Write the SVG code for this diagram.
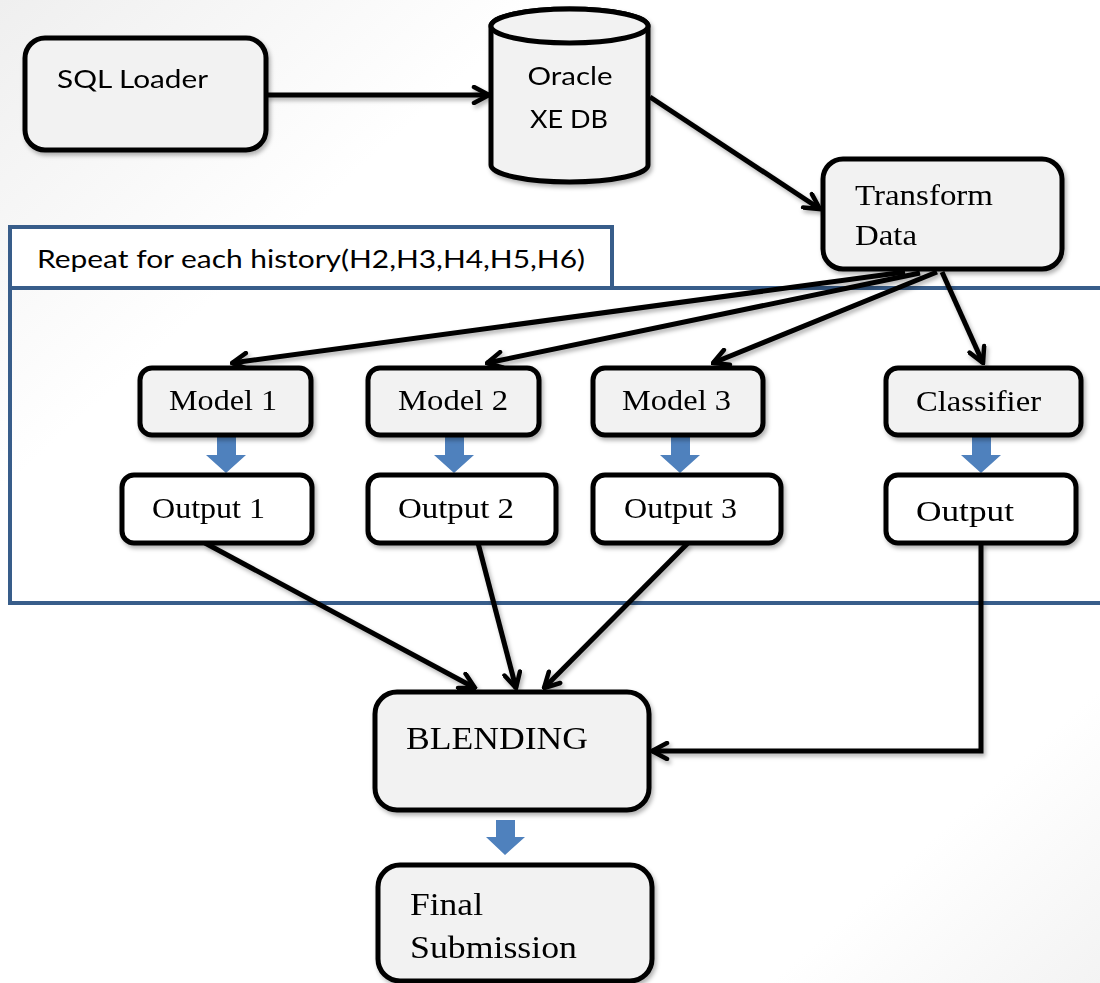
<svg xmlns="http://www.w3.org/2000/svg" width="1100" height="983" viewBox="0 0 1100 983">
<defs>
<linearGradient id="bg" x1="0" y1="0" x2="1" y2="1">
<stop offset="0" stop-color="#efefef"/>
<stop offset="0.25" stop-color="#ffffff"/>
<stop offset="0.85" stop-color="#ffffff"/>
<stop offset="1" stop-color="#f3f3f3"/>
</linearGradient>
<filter id="sh" x="-10%" y="-10%" width="130%" height="130%">
<feDropShadow dx="2" dy="3" stdDeviation="2" flood-color="#000" flood-opacity="0.3"/>
</filter>
<marker id="ah" viewBox="0 0 20 20" refX="18" refY="10" markerWidth="20" markerHeight="20" markerUnits="userSpaceOnUse" orient="auto">
<path d="M3,2 L18,10 L3,18" fill="none" stroke="#000" stroke-width="4.5" stroke-linecap="round"/>
</marker>
</defs>
<style>
.box{fill:#f2f2f2;stroke:#000;stroke-width:5;}
.wbox{fill:#ffffff;stroke:#000;stroke-width:5;}
.con{fill:none;stroke:#000;stroke-width:5;marker-end:url(#ah);}
.blue{fill:none;stroke:#385D8A;stroke-width:4;}
.bar{fill:#4F81BD;}
.sans{font-family:Lato,"Open Sans","Liberation Sans",sans-serif;font-size:25px;fill:#000;}
.serif{font-family:"Liberation Serif","Times New Roman",serif;font-size:29px;fill:#000;}
</style>
<rect x="0" y="0" width="1100" height="983" fill="url(#bg)"/>

<g id="repeat-frame">
<rect class="blue" x="10" y="288" width="1100" height="315" fill="#fff"/>
<rect class="blue" x="10" y="227" width="602" height="61" style="fill:#fff"/>
<text class="sans" x="37" y="268" textLength="548" lengthAdjust="spacingAndGlyphs">Repeat for each history(H2,H3,H4,H5,H6)</text>
</g>

<g id="connectors" filter="url(#sh)">
<line class="con" x1="266" y1="95" x2="489" y2="95"/>
<line class="con" x1="650" y1="97" x2="820" y2="209"/>
<line class="con" x1="905" y1="272" x2="232" y2="363"/>
<line class="con" x1="920" y1="273" x2="487" y2="363"/>
<line class="con" x1="937" y1="272" x2="713" y2="363"/>
<line class="con" x1="942" y1="272" x2="983" y2="363"/>
<line class="con" x1="205" y1="543" x2="475" y2="688"/>
<line class="con" x1="478" y1="543" x2="516" y2="688"/>
<line class="con" x1="688" y1="543" x2="544" y2="688"/>
<polyline class="con" points="981,543 981,751 652,751" style="stroke-linejoin:miter"/>
</g>

<g id="block-arrows">
<polygon class="bar" points="217,437 236,437 236,455 246,455 226,473 206,455 217,455"/>
<polygon class="bar" points="445,437 464,437 464,455 474,455 454,473 434,455 445,455"/>
<polygon class="bar" points="671,437 690,437 690,455 700,455 680,473 660,455 671,455"/>
<polygon class="bar" points="972,437 991,437 991,455 1001,455 981,473 961,455 972,455"/>
<polygon class="bar" points="496,820 515,820 515,837 525,837 505,855 486,837 496,837"/>
</g>

<g id="sql-loader" filter="url(#sh)">
<rect class="box" x="25" y="38" width="241" height="112" rx="20"/>
<text class="sans" x="57" y="88" textLength="151" lengthAdjust="spacingAndGlyphs">SQL Loader</text>
</g>

<g id="oracle-db" filter="url(#sh)">
<path class="box" d="M491,26 A78.5,17 0 0 1 648,26 L648,165 A78.5,17 0 0 1 491,165 Z"/>
<ellipse cx="569.5" cy="26" rx="78.5" ry="17" fill="#f2f2f2" stroke="#000" stroke-width="5"/>
<text class="sans" x="570" y="85" text-anchor="middle" textLength="85" lengthAdjust="spacingAndGlyphs">Oracle</text>
<text class="sans" x="569" y="128" text-anchor="middle" textLength="78" lengthAdjust="spacingAndGlyphs">XE DB</text>
</g>

<g id="transform-data" filter="url(#sh)">
<rect class="box" x="823" y="159" width="239" height="110" rx="20"/>
<text class="serif" x="855" y="205" textLength="138" lengthAdjust="spacingAndGlyphs" style="font-size:30px">Transform</text>
<text class="serif" x="855" y="245" textLength="62" lengthAdjust="spacingAndGlyphs" style="font-size:30px">Data</text>
</g>

<g id="model-1" filter="url(#sh)">
<rect class="box" x="140" y="368" width="171" height="67" rx="12"/>
<text class="serif" x="169" y="410" textLength="108" lengthAdjust="spacingAndGlyphs">Model 1</text>
</g>
<g id="model-2" filter="url(#sh)">
<rect class="box" x="368" y="368" width="171" height="67" rx="12"/>
<text class="serif" x="398" y="410" textLength="110" lengthAdjust="spacingAndGlyphs">Model 2</text>
</g>
<g id="model-3" filter="url(#sh)">
<rect class="box" x="593" y="368" width="170" height="67" rx="12"/>
<text class="serif" x="622" y="410" textLength="109" lengthAdjust="spacingAndGlyphs">Model 3</text>
</g>
<g id="classifier" filter="url(#sh)">
<rect class="box" x="886" y="368" width="195" height="67" rx="12"/>
<text class="serif" x="916" y="411" textLength="125" lengthAdjust="spacingAndGlyphs">Classifier</text>
</g>

<g id="output-1" filter="url(#sh)">
<rect class="wbox" x="122" y="475" width="190" height="68" rx="12"/>
<text class="serif" x="152" y="518" textLength="113" lengthAdjust="spacingAndGlyphs">Output 1</text>
</g>
<g id="output-2" filter="url(#sh)">
<rect class="wbox" x="368" y="475" width="188" height="68" rx="12"/>
<text class="serif" x="398" y="518" textLength="116" lengthAdjust="spacingAndGlyphs">Output 2</text>
</g>
<g id="output-3" filter="url(#sh)">
<rect class="wbox" x="593" y="475" width="188" height="68" rx="12"/>
<text class="serif" x="624" y="518" textLength="113" lengthAdjust="spacingAndGlyphs">Output 3</text>
</g>
<g id="output" filter="url(#sh)">
<rect class="wbox" x="886" y="475" width="190" height="68" rx="12"/>
<text class="serif" x="916" y="521" textLength="98" lengthAdjust="spacingAndGlyphs" style="font-size:30px">Output</text>
</g>

<g id="blending" filter="url(#sh)">
<rect class="box" x="375" y="692" width="274" height="118" rx="22"/>
<text class="serif" x="406" y="749" textLength="182" lengthAdjust="spacingAndGlyphs" style="font-size:32px">BLENDING</text>
</g>

<g id="final-submission" filter="url(#sh)">
<rect class="box" x="378" y="865" width="274" height="116" rx="22"/>
<text class="serif" x="410" y="915" textLength="73" lengthAdjust="spacingAndGlyphs" style="font-size:32px">Final</text>
<text class="serif" x="410" y="958" textLength="167" lengthAdjust="spacingAndGlyphs" style="font-size:32px">Submission</text>
</g>
</svg>
